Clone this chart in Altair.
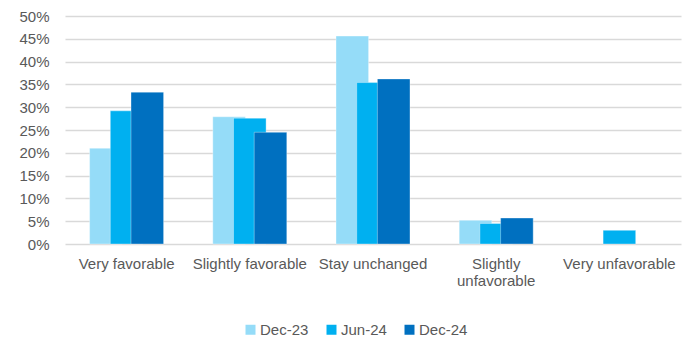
import altair as alt
import pandas as pd

# Survey outlook categories and the share of responses per survey wave
categories = [
    "Very favorable",
    "Slightly favorable",
    "Stay unchanged",
    "Slightly unfavorable",
    "Very unfavorable",
]
waves = ["Dec-23", "Jun-24", "Dec-24"]
dec23 = [0.21, 0.279, 0.456, 0.052, 0.0]
jun24 = [0.292, 0.276, 0.354, 0.045, 0.03]
dec24 = [0.333, 0.245, 0.362, 0.057, 0.0]
colors = ["#95DCF8", "#00B0F0", "#0070C0"]
y_ticks = [0, 0.05, 0.10, 0.15, 0.20, 0.25, 0.30, 0.35, 0.40, 0.45, 0.50]

rows = []
for wave, values in zip(waves, [dec23, jun24, dec24]):
    for cat, v in zip(categories, values):
        rows.append({"category": cat, "wave": wave, "share": v})
df = pd.DataFrame(rows)

FONT = "Liberation Sans"
TEXT = "#595959"

x_enc = alt.X(
    "category:N",
    sort=categories,
    scale=alt.Scale(domain=categories, paddingInner=0, paddingOuter=0),
    axis=alt.Axis(
        title=None,
        labelAngle=0,
        ticks=False,
        domain=False,
        grid=False,
        labelPadding=12,
        labelFont=FONT,
        labelFontSize=15,
        labelColor=TEXT,
        labelLineHeight=17,
        labelLimit=200,
        labelExpr="datum.label == 'Slightly unfavorable' ? ['Slightly', 'unfavorable'] : datum.label",
    ),
)
y_enc = alt.Y(
    "share:Q",
    scale=alt.Scale(domain=[0, 0.5], nice=False),
    axis=alt.Axis(
        title=None,
        values=y_ticks,
        format=".0%",
        ticks=False,
        domain=False,
        grid=True,
        gridColor="#D9D9D9",
        gridWidth=1.5,
        labelPadding=16,
        labelFont=FONT,
        labelFontSize=15,
        labelColor=TEXT,
    ),
)
color_enc = alt.Color(
    "wave:N",
    sort=waves,
    scale=alt.Scale(domain=waves, range=colors),
    legend=alt.Legend(
        title=None,
        orient="none",
        direction="horizontal",
        legendX=178,
        legendY=306,
        symbolType="square",
        symbolSize=100,
        symbolStrokeWidth=0,
        labelOffset=2,
        columnPadding=15,
        labelFont=FONT,
        labelFontSize=15,
        labelColor=TEXT,
    ),
)

# Overlapping clustered bars: each wave is shifted within its category band
offsets = {"Dec-23": -20.7, "Jun-24": 0, "Dec-24": 20.7}
layers = []
for wave in waves:
    layers.append(
        alt.Chart(df)
        .transform_filter((alt.datum.wave == wave) & (alt.datum.share > 0))
        .mark_bar(
            width=32.6,
            xOffset=offsets[wave],
            stroke="white",
            strokeOpacity=0.35,
            strokeWidth=1,
        )
        .encode(x=x_enc, y=y_enc, color=color_enc)
    )

chart = (
    alt.layer(*layers)
    .properties(
        width=616,
        height=228,
        autosize=alt.AutoSizeParams(type="none"),
        padding={"left": 65, "top": 16, "right": 13, "bottom": 98},
        background="white",
    )
    .configure_view(stroke=None)
)

chart.save("out.html", embed_options={"renderer": "svg", "actions": False})
